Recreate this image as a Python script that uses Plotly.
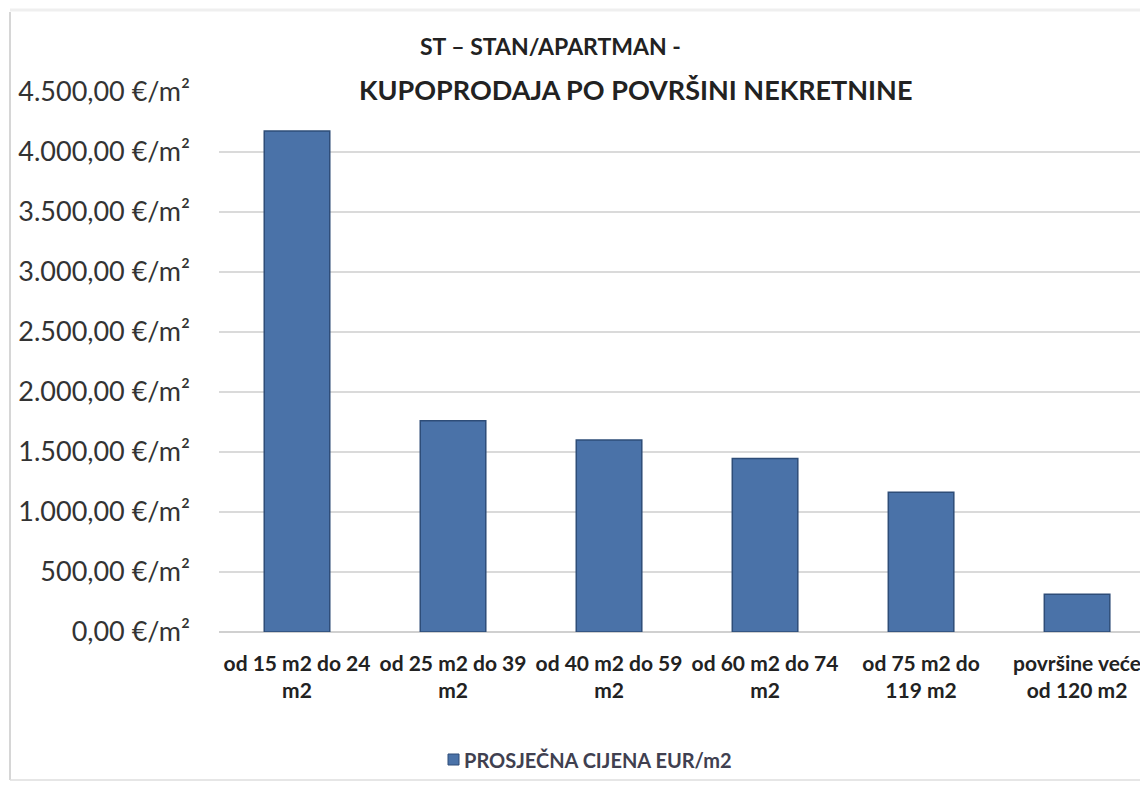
import plotly.graph_objects as go

# kategorije povrsine i prosjecne cijene
kategorije = [
    "od 15 m2 do 24<br>m2",
    "od 25 m2 do 39<br>m2",
    "od 40 m2 do 59<br>m2",
    "od 60 m2 do 74<br>m2",
    "od 75 m2 do<br>119 m2",
    "površine veće<br>od 120 m2",
]
cijene = [4175, 1760, 1600, 1445, 1165, 315]

y_tickvals = [0, 500, 1000, 1500, 2000, 2500, 3000, 3500, 4000, 4500]
y_ticktext = ["0,00 €/m²", "500,00 €/m²", "1.000,00 €/m²", "1.500,00 €/m²",
              "2.000,00 €/m²", "2.500,00 €/m²", "3.000,00 €/m²", "3.500,00 €/m²",
              "4.000,00 €/m²", "4.500,00 €/m²"]

naslov_1 = "ST – STAN/APARTMAN -"
naslov_2 = "KUPOPRODAJA PO POVRŠINI NEKRETNINE"
serija = "PROSJEČNA CIJENA EUR/m2"

FONT = "Lato"

# stranica ima 8px margine body-a; ovo su koordinate na ekranu
PL, PT = 219, 92   # lijevi i gornji rub plota
PW, PH = 937, 540


def px_x(p):
    return (p - PL) / PW


def px_y(p):
    return (PT + PH - p) / PH


fig = go.Figure()
fig.add_trace(go.Bar(
    x=kategorije,
    y=cijene,
    name=serija,
    width=0.42,
    marker=dict(color="#4A72A8", line=dict(color="#2E4D78", width=1.5)),
    showlegend=False,
))

# naslov u dva reda
fig.add_annotation(text=f"<b>{naslov_1}</b>", x=px_x(550), y=px_y(46), xref="paper", yref="paper",
                   showarrow=False, xanchor="center", yanchor="middle",
                   font=dict(family=FONT, size=23, color="#222222"))
fig.add_annotation(text=f"<b>{naslov_2}</b>", x=px_x(635), y=px_y(89), xref="paper", yref="paper",
                   showarrow=False, xanchor="center", yanchor="middle",
                   font=dict(family=FONT, size=27, color="#222222"))

# legenda
fig.add_annotation(text=f"<b>{serija}</b>", x=px_x(462), y=px_y(760), xref="paper", yref="paper",
                   showarrow=False, xanchor="left", yanchor="middle",
                   font=dict(family=FONT, size=20, color="#404050"))
fig.add_shape(type="rect", xref="paper", yref="paper",
              x0=px_x(448), x1=px_x(459), y0=px_y(754), y1=px_y(765),
              fillcolor="#4A72A8", line=dict(color="#2E4D78", width=1))

# okvir grafikona (lijevo, dolje jace, gore blijedo)
fig.add_shape(type="line", xref="paper", yref="paper",
              x0=px_x(10), x1=px_x(10), y0=px_y(780), y1=px_y(12),
              line=dict(color="#d6d6d6", width=2), layer="below")
fig.add_shape(type="line", xref="paper", yref="paper",
              x0=px_x(10), x1=px_x(1160), y0=px_y(780), y1=px_y(780),
              line=dict(color="#dedede", width=1.5), layer="below")
fig.add_shape(type="line", xref="paper", yref="paper",
              x0=px_x(10), x1=px_x(1160), y0=px_y(10), y1=px_y(10),
              line=dict(color="#efefef", width=3), layer="below")

fig.update_layout(
    width=1148,
    height=787,
    margin=dict(l=PL - 8, r=0, t=PT - 8, b=787 - (PT - 8) - PH),
    paper_bgcolor="white",
    plot_bgcolor="white",
    xaxis=dict(
        range=[-0.5, 5.506],
        showgrid=False,
        showline=False,
        ticks="",
        tickvals=kategorije,
        ticktext=[f"<b>{k}</b>" for k in kategorije],
        tickfont=dict(family=FONT, size=21, color="#222222"),
        ticklabelstandoff=17,
    ),
    yaxis=dict(
        range=[0, 4500],
        tickvals=y_tickvals,
        ticktext=y_ticktext,
        showgrid=True,
        gridcolor="#dadada",
        gridwidth=1.5,
        zeroline=True,
        zerolinecolor="#d0d0d0",
        zerolinewidth=1.5,
        tickfont=dict(family=FONT, size=27, color="#333333"),
        ticklabelstandoff=28,
    ),
)

fig.write_html("out.html")
